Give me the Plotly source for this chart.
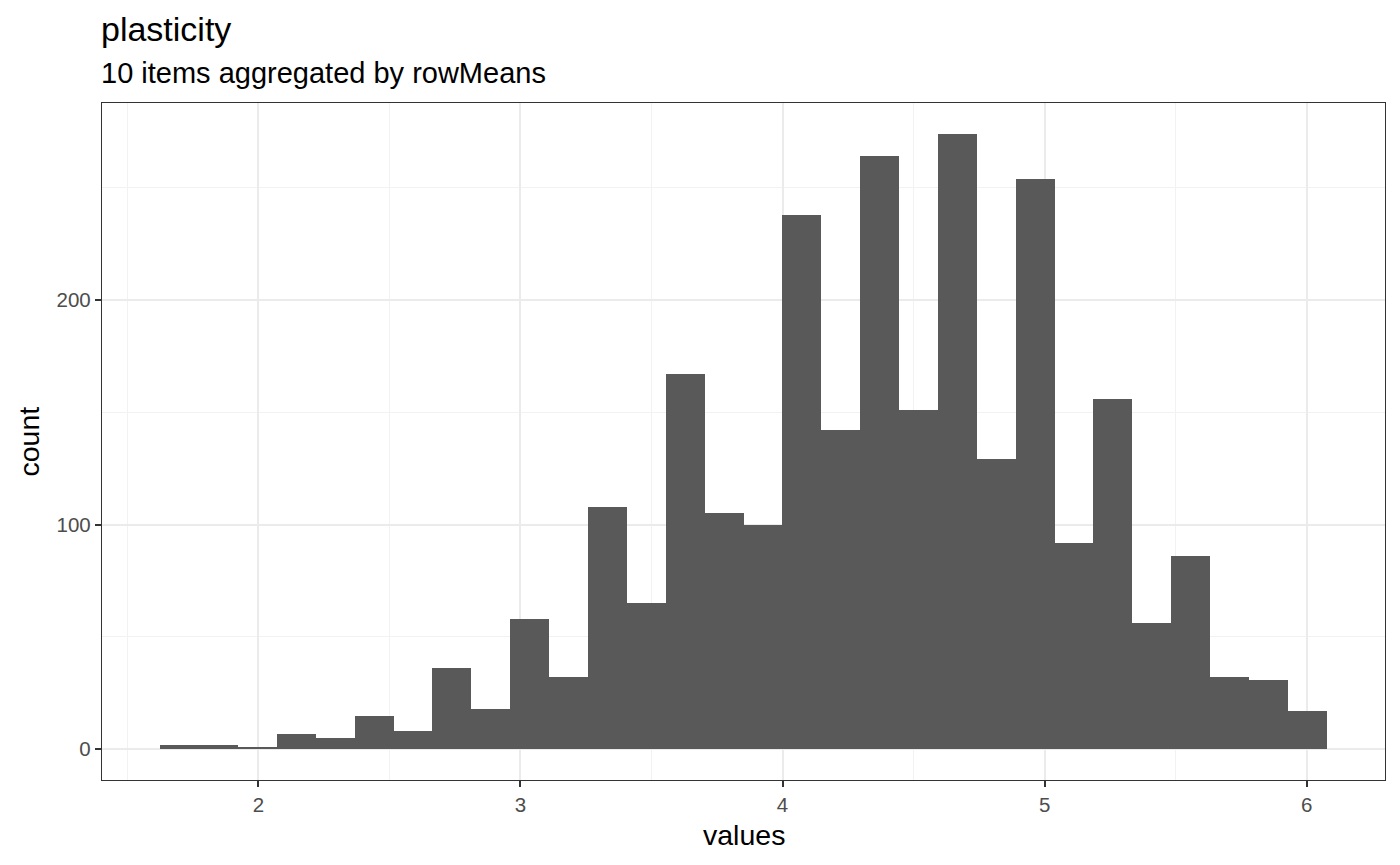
import numpy as np
import plotly.graph_objects as go

# histogram of rowMeans, 30 bins
bin_start = 1.626
bin_width = 0.14833
counts = [2, 2, 1, 7, 5, 15, 8, 36, 18, 58,
          32, 108, 65, 167, 105, 100, 238, 142, 264, 151,
          274, 129, 254, 92, 156, 56, 86, 32, 31, 17]

x_ticks = [2, 3, 4, 5, 6]
y_ticks = [0, 100, 200]

centers = bin_start + bin_width * (np.arange(len(counts)) + 0.5)

fig = go.Figure()
fig.add_trace(go.Bar(
    x=centers, y=counts, width=bin_width,
    marker=dict(color="#595959", line=dict(width=0)),
    hoverinfo="x+y",
))

font = "Liberation Sans, Arial, sans-serif"
x_lo, x_hi = bin_start, bin_start + bin_width * len(counts)
xpad = (x_hi - x_lo) * 0.05
ypad = max(counts) * 0.05

# page body has an 8px margin, so the figure is a bit smaller than the window
fig.update_layout(
    width=1384, height=849,
    margin=dict(l=94, r=7, t=95, b=77),
    plot_bgcolor="white", paper_bgcolor="white",
    bargap=0, showlegend=False,
    font=dict(family=font, color="black"),
    annotations=[
        dict(text="plasticity", x=0, y=1, xref="paper", yref="paper",
             xanchor="left", yanchor="middle", xshift=-3, yshift=74, showarrow=False,
             font=dict(size=34, family=font, color="black")),
        dict(text="10 items aggregated by rowMeans", x=0, y=1, xref="paper", yref="paper",
             xanchor="left", yanchor="middle", xshift=-3, yshift=30, showarrow=False,
             font=dict(size=29, family=font, color="black")),
        dict(text="values", x=0.5, y=0, xref="paper", yref="paper",
             xanchor="center", yanchor="middle", yshift=-55, showarrow=False,
             font=dict(size=28.5, family=font, color="black")),
        dict(text="count", x=0, y=0.5, xref="paper", yref="paper", textangle=-90,
             xanchor="center", yanchor="middle", xshift=-74, showarrow=False,
             font=dict(size=28.5, family=font, color="black")),
    ],
)
fig.update_xaxes(
    range=[x_lo - xpad, x_hi + xpad], tickvals=x_ticks,
    showgrid=True, gridcolor="#EBEBEB", gridwidth=2,
    minor=dict(dtick=0.5, tick0=1.5, showgrid=True, gridcolor="#F2F2F2", gridwidth=1),
    ticks="outside", ticklen=6, tickwidth=1.5, tickcolor="#333333",
    tickfont=dict(size=20.5, color="#4D4D4D", family=font),
    showline=True, linecolor="#333333", linewidth=1.3, mirror=True,
    zeroline=False,
)
fig.update_yaxes(
    range=[-ypad, max(counts) + ypad], tickvals=y_ticks,
    showgrid=True, gridcolor="#EBEBEB", gridwidth=2,
    minor=dict(dtick=50, tick0=50, showgrid=True, gridcolor="#F2F2F2", gridwidth=1),
    ticks="outside", ticklen=6, tickwidth=1.5, tickcolor="#333333",
    tickfont=dict(size=20.5, color="#4D4D4D", family=font),
    showline=True, linecolor="#333333", linewidth=1.3, mirror=True,
    zeroline=False,
)

fig.write_html("out.html")
